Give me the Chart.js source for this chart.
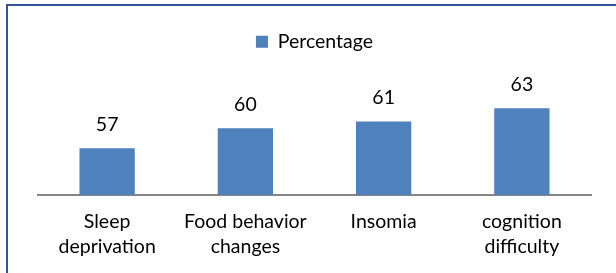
<!DOCTYPE html>
<html>
<head>
<meta charset="utf-8">
<script src="https://cdn.jsdelivr.net/npm/chart.js@4"></script>
<style>
  html, body { margin: 0; padding: 0; background: #fff; overflow: hidden; }
  #wrap { position: relative; width: 616px; height: 273px; }
  #frame {
    position: absolute; left: 6px; top: 4px; width: 700px; height: 400px;
    border: 2px solid #2f5597; box-sizing: border-box; pointer-events: none;
  }
  canvas { position: absolute; left: 0; top: 0; }
</style>
</head>
<body>
<div id="wrap">
  <div id="frame"></div>
  <canvas id="chart" width="616" height="273"></canvas>
</div>
<script>
const categories = [
  ["Sleep", "deprivation"],
  ["Food behavior", "changes"],
  ["Insomia"],
  ["cognition", "difficulty"],
];
const seriesName = "Percentage";
const percentages = [57, 60, 61, 63];
const yMin = 50;
const yMax = 70;

const FONT = "Lato, 'Open Sans', sans-serif";
const FONT_SIZE = 19.5;

// подписи значений над столбцами
const valueLabels = {
  id: "valueLabels",
  afterDatasetsDraw(chart) {
    const ctx = chart.ctx;
    const meta = chart.getDatasetMeta(0);
    ctx.save();
    ctx.font = FONT_SIZE + "px " + FONT;
    ctx.fillStyle = "#000";
    ctx.textAlign = "center";
    ctx.textBaseline = "middle";
    meta.data.forEach((bar, i) => {
      ctx.fillText(String(chart.data.datasets[0].data[i]), bar.x, bar.y - 24);
    });
    ctx.restore();
  },
};

document.addEventListener("DOMContentLoaded", function () {
  const ctx = document.getElementById("chart").getContext("2d");
  new Chart(ctx, {
    type: "bar",
    data: {
      labels: categories,
      datasets: [
        {
          label: seriesName,
          data: percentages,
          backgroundColor: "#4f81bd",
          borderWidth: 0,
          categoryPercentage: 0.8,
          barPercentage: 0.5,
        },
      ],
    },
    options: {
      responsive: false,
      animation: false,
      layout: {
        padding: { left: 38, right: 25, top: 22, bottom: 8 },
      },
      plugins: {
        legend: {
          display: true,
          position: "top",
          labels: {
            boxWidth: 12,
            boxHeight: 12,
            padding: 10,
            color: "#000",
            font: { size: FONT_SIZE, family: FONT },
          },
        },
        tooltip: { enabled: false },
      },
      scales: {
        x: {
          grid: { display: false },
          border: { display: true, color: "#868686", width: 2 },
          ticks: {
            color: "#000",
            padding: 6,
            maxRotation: 0,
            autoSkip: false,
            font: { size: FONT_SIZE, family: FONT, lineHeight: 1.28 },
          },
        },
        y: {
          display: false,
          min: yMin,
          max: yMax,
        },
      },
    },
    plugins: [valueLabels],
  });
});
</script>
</body>
</html>
